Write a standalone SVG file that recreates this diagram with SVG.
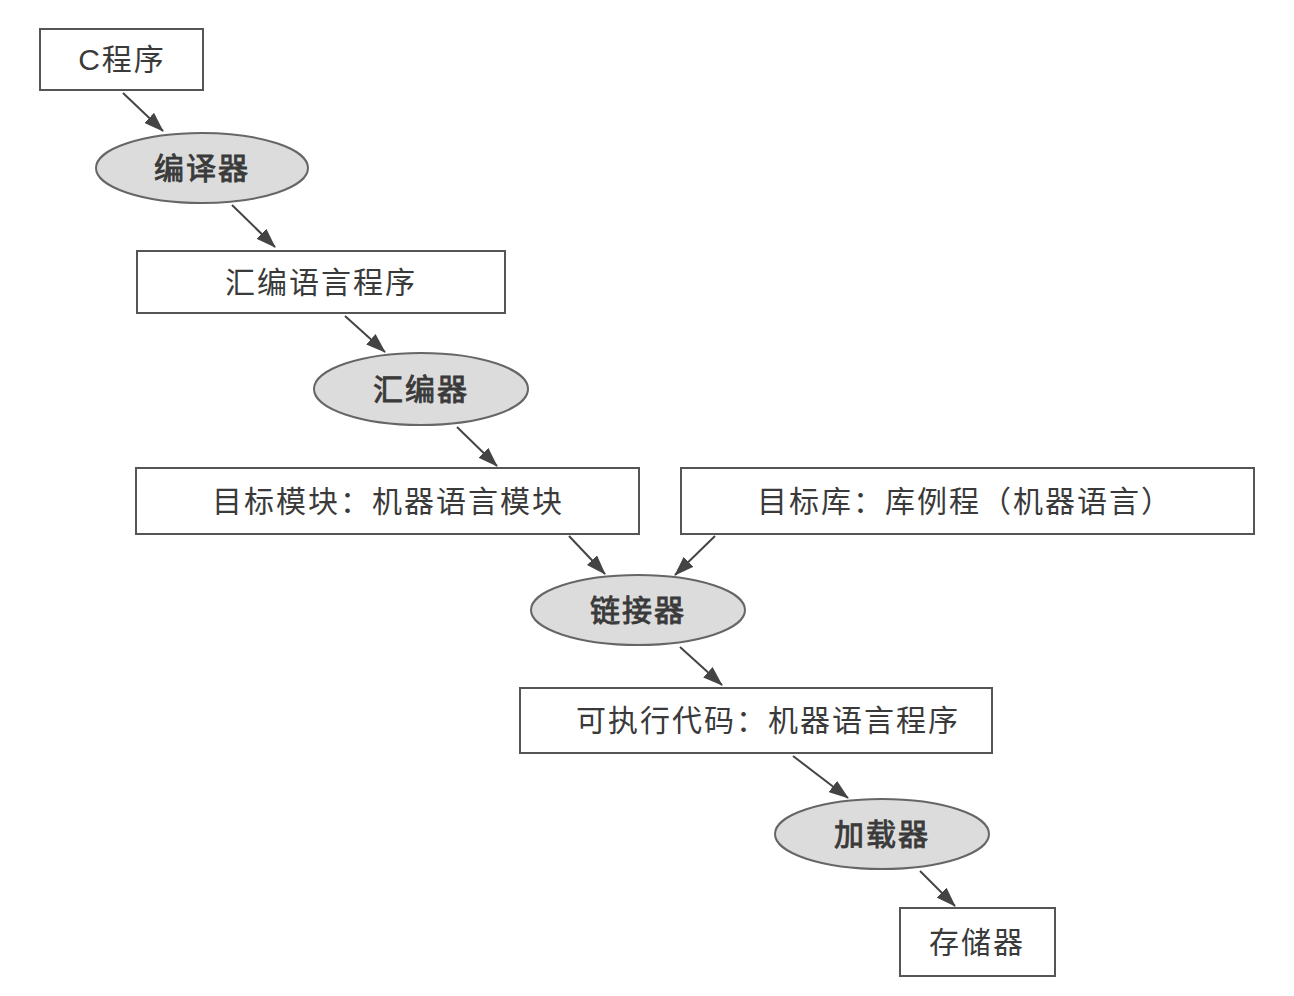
<svg xmlns="http://www.w3.org/2000/svg" width="1294" height="996" viewBox="0 0 1294 996">
<style>
.box{fill:#fff;stroke:#555;stroke-width:2}
.ell{fill:#dcdcdc;stroke:#666;stroke-width:2}
.t{font-family:"Liberation Sans","Noto Sans CJK SC",sans-serif;font-size:30px;fill:#3a3a3a;text-anchor:middle;dominant-baseline:central;letter-spacing:2px}
.te{stroke:#3a3a3a;stroke-width:0.9}
.c{stroke:#444;stroke-width:2;fill:none;marker-end:url(#ah)}
</style>
<defs>
<marker id="ah" viewBox="0 0 20 14" refX="19" refY="7" markerWidth="20" markerHeight="14" markerUnits="userSpaceOnUse" orient="auto">
<path d="M0,0 L20,7 L0,14 z" fill="#444"/>
</marker>
</defs>
<rect width="1294" height="996" fill="#fff"/>
<g id="connectors">
<line class="c" x1="123" y1="93" x2="163" y2="131"/>
<line class="c" x1="232" y1="205" x2="275" y2="247"/>
<line class="c" x1="345" y1="316" x2="385" y2="352"/>
<line class="c" x1="457" y1="427" x2="497" y2="466"/>
<line class="c" x1="569" y1="536" x2="605" y2="574"/>
<line class="c" x1="715" y1="536" x2="675" y2="575"/>
<line class="c" x1="680" y1="647" x2="722" y2="685"/>
<line class="c" x1="793" y1="756" x2="848" y2="798"/>
<line class="c" x1="920" y1="871" x2="955" y2="906"/>
</g>
<g id="c_program">
<rect class="box" x="40" y="29" width="163" height="61"/>
<text class="t" x="122" y="59">C程序</text>
</g>
<g id="compiler">
<ellipse class="ell" cx="202" cy="168" rx="106" ry="35"/>
<text class="t te" x="202" y="168">编译器</text>
</g>
<g id="asm_program">
<rect class="box" x="137" y="251" width="368" height="62"/>
<text class="t" x="321" y="282">汇编语言程序</text>
</g>
<g id="assembler">
<ellipse class="ell" cx="421" cy="389" rx="107" ry="36"/>
<text class="t te" x="421" y="389">汇编器</text>
</g>
<g id="object_module">
<rect class="box" x="136" y="468" width="503" height="66"/>
<text class="t" x="388" y="501">目标模块：机器语言模块</text>
</g>
<g id="object_library">
<rect class="box" x="681" y="468" width="573" height="66"/>
<text class="t" x="965" y="501">目标库：库例程（机器语言）</text>
</g>
<g id="linker">
<ellipse class="ell" cx="638" cy="610" rx="107" ry="35"/>
<text class="t te" x="638" y="610">链接器</text>
</g>
<g id="executable">
<rect class="box" x="520" y="688" width="472" height="65"/>
<text class="t" x="768" y="720">可执行代码：机器语言程序</text>
</g>
<g id="loader">
<ellipse class="ell" cx="882" cy="834" rx="107" ry="35"/>
<text class="t te" x="882" y="834">加载器</text>
</g>
<g id="memory">
<rect class="box" x="900" y="908" width="155" height="68"/>
<text class="t" x="977" y="942">存储器</text>
</g>
</svg>
